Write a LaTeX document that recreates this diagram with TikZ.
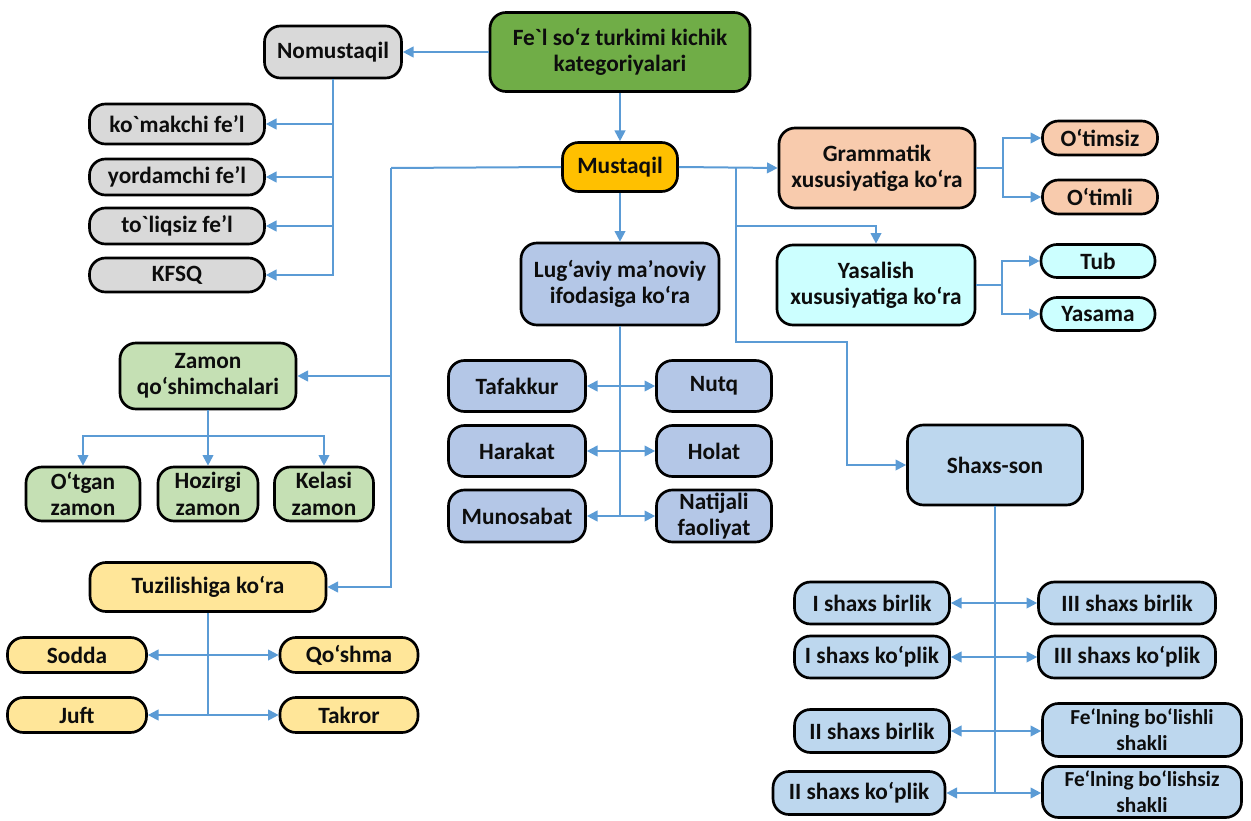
\documentclass[tikz,border=0pt]{standalone}
\usepackage{fontspec}
\setmainfont{Carlito}[Ligatures=TeXOff]
\usetikzlibrary{arrows.meta}
\definecolor{rootg}{HTML}{70AD47}
\definecolor{grayb}{HTML}{D9D9D9}
\definecolor{musto}{HTML}{FFC000}
\definecolor{salmon}{HTML}{F8CBAD}
\definecolor{cyanb}{HTML}{CCFFFF}
\definecolor{lugb}{HTML}{B4C7E7}
\definecolor{shaxsb}{HTML}{BDD7EE}
\definecolor{zamg}{HTML}{C5E0B4}
\definecolor{tuzy}{HTML}{FFE699}
\definecolor{lineblue}{HTML}{5B9BD5}
\begin{document}
\begin{tikzpicture}[x=0.75pt,y=-0.75pt,
  box/.style n args={3}{draw=black, line width=2pt, rounded corners=12pt, fill=#1,
    minimum width=#2*0.75pt, minimum height=#3*0.75pt, align=center,
    font=\bfseries\fontsize{17.5}{19.8}\selectfont, inner sep=1pt, text=black!95},
  smallfont/.style={font=\bfseries\fontsize{16}{19.5}\selectfont},
  ln/.style={draw=lineblue, line width=1.5pt},
  arr/.style={ln, -{Triangle[length=8pt,width=8pt]}},
  arrb/.style={ln, {Triangle[length=8pt,width=8pt]}-{Triangle[length=8pt,width=8pt]}}]
\useasboundingbox (0,0) rectangle (1251,820);

% top level
\node[box={rootg}{260}{79}] (root) at (620,52) {Fe`l so‘z turkimi kichik\\kategoriyalari};
\node[box={grayb}{137}{52}] (nomus) at (333,52) {Nomustaqil};
\node[box={grayb}{175}{40}] (komak) at (177,124) {ko`makchi fe’l};
\node[box={grayb}{175}{36}] (yord) at (177,177) {yordamchi fe’l};
\node[box={grayb}{175}{36}] (toliq) at (177,226) {to`liqsiz fe’l};
\node[box={grayb}{175}{34}] (kfsq) at (177,275) {KFSQ};

\node[box={musto}{115}{49}] (must) at (620,167) {Mustaqil};

\node[box={salmon}{196}{80}] (gram) at (877,168) {Grammatik\\xususiyatiga ko‘ra};
\node[box={salmon}{115}{34}] (otimsiz) at (1100,138) {O‘timsiz};
\node[box={salmon}{115}{34}] (otimli) at (1100,197) {O‘timli};

\node[box={cyanb}{198}{80}] (yas) at (876,285) {Yasalish\\xususiyatiga ko‘ra};
\node[box={cyanb}{114}{33}] (tub) at (1098,261) {Tub};
\node[box={cyanb}{114}{33}] (yasama) at (1098,314) {Yasama};

\node[box={lugb}{198}{82}] (lug) at (620,284) {Lug‘aviy ma’noviy\\ifodasiga ko‘ra};
\node[box={lugb}{137}{51}] (taf) at (517,386) {Tafakkur};
\node[box={lugb}{115}{51}] (nutq) at (714,386) {Nutq};
\node[box={lugb}{137}{51}] (har) at (517,451) {Harakat};
\node[box={lugb}{115}{51}] (holat) at (714,451) {Holat};
\node[box={lugb}{137}{52}] (mun) at (517,516) {Munosabat};
\node[box={lugb}{115}{52}] (nat) at (714,516) {Natijali\\faoliyat};

\node[box={shaxsb}{175}{80}] (shaxs) at (995,465) {Shaxs-son};
\node[box={shaxsb}{155}{42}] (ib) at (872,603) {I shaxs birlik};
\node[box={shaxsb}{177}{42}] (iiib) at (1127,603) {III shaxs birlik};
\node[box={shaxsb}{155}{42}] (ik) at (872,657) {I shaxs ko‘plik};
\node[box={shaxsb}{177}{42}] (iiik) at (1127,657) {III shaxs ko‘plik};
\node[box={shaxsb}{155}{43}] (iib) at (872,731) {II shaxs birlik};
\node[box={shaxsb}{199}{53}, smallfont] (fb) at (1142,730) {Fe‘lning bo‘lishli\\shakli};
\node[box={shaxsb}{172}{43}] (iik) at (859,793) {II shaxs ko‘plik};
\node[box={shaxsb}{199}{51}, smallfont] (fbs) at (1142,792) {Fe‘lning bo‘lishsiz\\shakli};

\node[box={zamg}{176}{66}] (zamon) at (208,376) {Zamon\\qo‘shimchalari};
\node[box={zamg}{114}{54}] (otgan) at (83,494) {O‘tgan\\zamon};
\node[box={zamg}{100}{54}] (hoz) at (208,494) {Hozirgi\\zamon};
\node[box={zamg}{99}{54}] (kel) at (324,494) {Kelasi\\zamon};

\node[box={tuzy}{236}{49}] (tuz) at (208,587) {Tuzilishiga ko‘ra};
\node[box={tuzy}{139}{35}] (sodda) at (77,655) {Sodda};
\node[box={tuzy}{138}{35}] (qosh) at (349,655) {Qo‘shma};
\node[box={tuzy}{139}{35}] (juft) at (77,715) {Juft};
\node[box={tuzy}{138}{35}] (takror) at (349,715) {Takror};

\coordinate (j1) at (736,168);
\coordinate (j2) at (391,168);

% connectors
\draw[arr] (root.west) -- (nomus.east);
\draw[arr] (root.south) -- (must.north);
\foreach \t in {komak,yord,toliq,kfsq} \draw[arr] (nomus.south) |- (\t.east);

\draw[arr] (must.east) -- (gram.west);
\draw[arr] (gram.east) -- ++(27,0) |- (otimsiz.west);
\draw[arr] (gram.east) -- ++(27,0) |- (otimli.west);
\draw[arr] (yas.east) -- ++(26,0) |- (tub.west);
\draw[arr] (yas.east) -- ++(26,0) |- (yasama.west);
\draw[arr] (j1) -- ++(0,58) -| (yas.north);
\draw[arr] (j1) -- ++(0,174) -- ++(111,0) |- (shaxs.west);

\draw[arr] (must.south) -- (lug.north);
\draw[ln] (lug.south) -- (lug.south |- mun.east);
\draw[arrb] (taf.east) -- (nutq.west);
\draw[arrb] (har.east) -- (holat.west);
\draw[arrb] (mun.east) -- (nat.west);

\draw[ln] (must.west) -- (j2);
\draw[arr] (j2) |- (zamon.east);
\draw[arr] (j2) |- (tuz.east);

\draw[arr] (zamon.south) -- (hoz.north);
\draw[arr] (zamon.south) -- ++(0,26) -| (otgan.north);
\draw[arr] (zamon.south) -- ++(0,26) -| (kel.north);

\draw[ln] (tuz.south) -- (tuz.south |- juft.east);
\draw[arrb] (sodda.east) -- (qosh.west);
\draw[arrb] (juft.east) -- (takror.west);

\draw[ln] (shaxs.south) -- (shaxs.south |- iik.east);
\draw[arrb] (ib.east) -- (ib.east -| iiib.west);
\draw[arrb] (ik.east) -- (ik.east -| iiik.west);
\draw[arrb] (iib.east) -- (iib.east -| fb.west);
\draw[arrb] (iik.east) -- (iik.east -| fbs.west);
\end{tikzpicture}
\end{document}
